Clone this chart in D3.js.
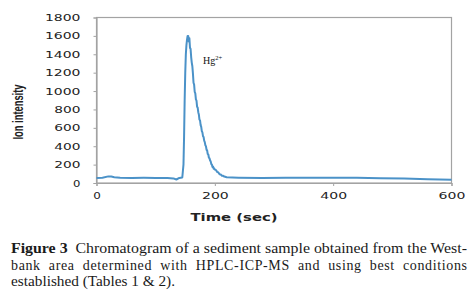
<!DOCTYPE html>
<html>
<head>
<meta charset="utf-8">
<script src="https://cdn.jsdelivr.net/npm/d3@7"></script>
<style>
  body { margin: 0; background: #fff; }
</style>
</head>
<body>
<svg id="chart"></svg>
<script>
// chromatogram readings (time in sec, ion intensity)
const timeSec = [0, 10, 20, 25, 30, 40, 60, 80, 100, 120, 130, 135, 140, 145,
  147, 148, 149, 150, 151, 152, 153, 154, 155, 156, 157, 158, 159, 160, 161, 162,
  163, 164, 165, 166, 167, 168, 169, 170, 171, 172, 173, 174, 175, 176, 177, 178,
  179, 180, 181, 182, 183, 184, 185, 186, 187, 188, 189, 190, 191, 192, 193, 194,
  195, 196, 197, 198, 199, 200, 202, 204, 206, 208, 210, 212, 214, 216, 220, 240,
  280, 320, 360, 400, 440, 480, 520, 560, 600];
const ionIntensity = [55, 58, 72, 70, 62, 57, 55, 56, 55, 54, 50, 38, 55, 60,
  200, 500, 900, 1200, 1400, 1500, 1560, 1600, 1600, 1540, 1575, 1470, 1460, 1370, 1310, 1270,
  1190, 1090, 1070, 990, 975, 910, 895, 830, 820, 770, 745, 690, 680, 630, 610, 565,
  550, 510, 500, 460, 445, 410, 400, 360, 355, 315, 310, 275, 270, 245, 235, 205,
  200, 175, 180, 155, 160, 145, 140, 120, 115, 95, 92, 80, 78, 70, 62, 58,
  55, 57, 58, 58, 57, 52, 48, 42, 35];
const xTicks = [0, 200, 400, 600];
const yTicks = [0, 200, 400, 600, 800, 1000, 1200, 1400, 1600, 1800];

const captionLines = [
  "Chromatogram of a sediment sample obtained from the West-",
  "bank area determined with HPLC-ICP-MS and using best conditions",
  "established (Tables 1 & 2)."
];

const width = 470, height = 291;
const margin = { left: 96.5, right: 18.5, top: 17.5, bottom: 108 };

const svg = d3.select("#chart")
  .attr("width", width)
  .attr("height", height);

const xScale = d3.scaleLinear()
  .domain([0, 600])
  .range([margin.left, width - margin.right]);
const yScale = d3.scaleLinear()
  .domain([0, 1800])
  .range([height - margin.bottom, margin.top]);

const frameColor = "#a3a3a3";
const tickFont = "'DejaVu Sans', sans-serif";

// frame round the plot
svg.append("rect")
  .attr("x", xScale(0))
  .attr("y", yScale(1800))
  .attr("width", xScale(600) - xScale(0))
  .attr("height", yScale(0) - yScale(1800))
  .attr("fill", "none")
  .attr("stroke", frameColor)
  .attr("stroke-width", 1.2);

// y axis
const yAxis = svg.append("g")
  .attr("transform", "translate(" + xScale(0) + ",0)")
  .call(d3.axisLeft(yScale).tickValues(yTicks).tickFormat(d3.format("d"))
    .tickSize(3).tickPadding(13));
yAxis.select(".domain").attr("stroke", frameColor).attr("stroke-width", 1.2);
yAxis.selectAll(".tick line").attr("stroke", frameColor);
yAxis.selectAll(".tick text")
  .attr("fill", "#222")
  .style("font-family", tickFont)
  .style("font-size", "9.5px")
  .attr("textLength", d => String(d).length * 9.4 - 2)
  .attr("lengthAdjust", "spacingAndGlyphs");

// x axis
const xAxis = svg.append("g")
  .attr("transform", "translate(0," + yScale(0) + ")")
  .call(d3.axisBottom(xScale).tickValues(xTicks).tickFormat(d3.format("d"))
    .tickSize(3).tickPadding(6));
xAxis.select(".domain").attr("stroke", frameColor).attr("stroke-width", 1.2);
xAxis.selectAll(".tick line").attr("stroke", frameColor);
xAxis.selectAll(".tick text")
  .attr("fill", "#222")
  .style("font-family", tickFont)
  .style("font-size", "9.5px")
  .attr("textLength", d => String(d).length * 9.6 - 2)
  .attr("lengthAdjust", "spacingAndGlyphs");

// the signal
const points = timeSec.map((t, i) => ({ t: t, v: ionIntensity[i] }));
const line = d3.line()
  .x(d => xScale(d.t))
  .y(d => yScale(d.v));
svg.append("path")
  .datum(points)
  .attr("d", line)
  .attr("fill", "none")
  .attr("stroke", "#4b92c8")
  .attr("stroke-width", 2)
  .attr("stroke-linejoin", "round");

// peak label
const hg = svg.append("text")
  .attr("x", 203)
  .attr("y", 64)
  .style("font-family", "'Liberation Serif', serif")
  .style("font-size", "10px")
  .attr("fill", "#111");
hg.append("tspan").text("Hg");
hg.append("tspan").attr("dy", -4).style("font-size", "6.5px").text("2+");

// axis titles
svg.append("text")
  .attr("transform", "translate(23,112) rotate(-90)")
  .attr("text-anchor", "middle")
  .style("font-family", "'Liberation Sans Narrow', 'Liberation Sans', sans-serif")
  .style("font-size", "14px")
  .style("font-weight", "bold")
  .attr("textLength", 55)
  .attr("lengthAdjust", "spacingAndGlyphs")
  .attr("fill", "#222")
  .text("Ion intensity");

svg.append("text")
  .attr("x", 234)
  .attr("y", 221)
  .attr("text-anchor", "middle")
  .style("font-family", tickFont)
  .style("font-size", "10px")
  .style("font-weight", "bold")
  .attr("textLength", 87)
  .attr("lengthAdjust", "spacingAndGlyphs")
  .attr("fill", "#222")
  .text("Time (sec)");

// figure caption
const capFont = "'Liberation Serif', 'DejaVu Serif', serif";
const capX = 11, capW = 456;
const first = svg.append("text")
  .attr("x", capX)
  .attr("y", 253)
  .attr("textLength", capW)
  .attr("lengthAdjust", "spacingAndGlyphs")
  .style("font-family", capFont)
  .style("font-size", "14px")
  .attr("fill", "#1a1a1a");
first.append("tspan").style("font-weight", "bold").text("Figure 3");
first.append("tspan").text("\u00a0\u00a0" + captionLines[0]);

svg.append("text")
  .attr("x", capX)
  .attr("y", 270)
  .attr("textLength", capW)
  .attr("lengthAdjust", "spacing")
  .style("font-family", capFont)
  .style("font-size", "14px")
  .style("word-spacing", "4px")
  .attr("fill", "#1a1a1a")
  .text(captionLines[1]);

svg.append("text")
  .attr("x", capX)
  .attr("y", 286)
  .attr("textLength", 164)
  .attr("lengthAdjust", "spacingAndGlyphs")
  .style("font-family", capFont)
  .style("font-size", "14px")
  .attr("fill", "#1a1a1a")
  .text(captionLines[2]);
</script>
</body>
</html>
